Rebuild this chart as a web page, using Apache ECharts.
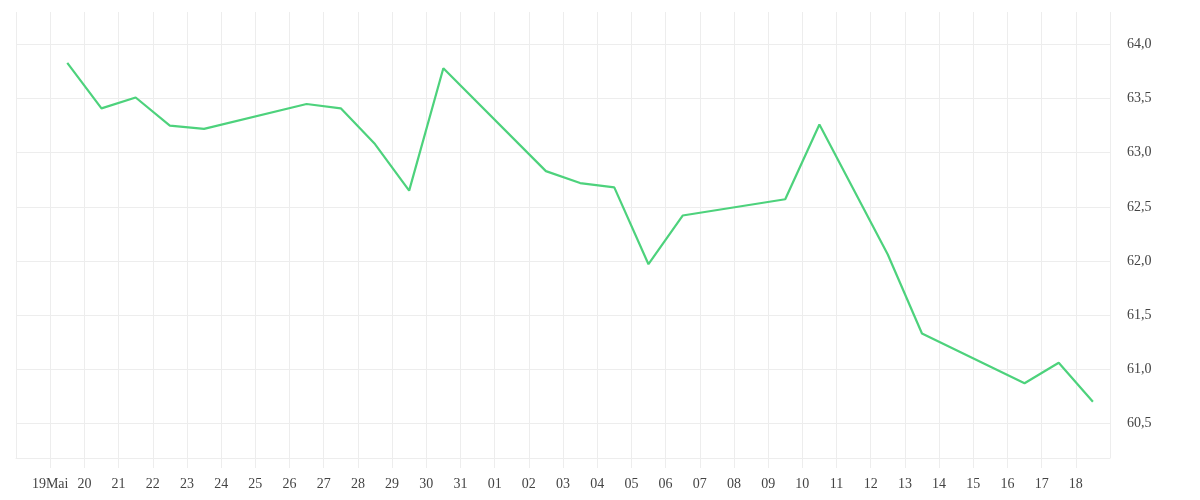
<!DOCTYPE html>
<html>
<head>
<meta charset="utf-8">
<style>html,body{margin:0;padding:0;background:#fff;}#c{width:1200px;height:500px;}</style>
<script src="https://cdn.jsdelivr.net/npm/echarts@6/dist/echarts.min.js"></script>
</head>
<body>
<div id="c"></div>
<script>
// data (dates as trading days)
const dates = ["2025-05-19","2025-05-20","2025-05-21","2025-05-22","2025-05-23",
  "2025-05-26","2025-05-27","2025-05-28","2025-05-29","2025-05-30",
  "2025-06-02","2025-06-03","2025-06-04","2025-06-05","2025-06-06",
  "2025-06-09","2025-06-10","2025-06-12","2025-06-13",
  "2025-06-16","2025-06-17","2025-06-18"];
const values = [63.83,63.41,63.51,63.25,63.22,
  63.45,63.41,63.08,62.65,63.78,
  62.83,62.72,62.68,61.97,62.42,
  62.57,63.26,62.06,61.33,
  60.87,61.06,60.70];
const tickLabels = ["19Mai","20","21","22","23","24","25","26","27","28","29","30","31",
  "01","02","03","04","05","06","07","08","09","10","11","12","13","14","15","16","17","18"];
const axisStart = "2025-05-18";
const axisEnd = "2025-06-19";
const yMin = 60.18, yMax = 64.3;

const DAY = 86400000;
const t0 = Date.parse(axisStart + "T00:00:00Z");
const t1 = Date.parse(axisEnd + "T00:00:00Z");
const seriesData = dates.map((d, i) => [Date.parse(d + "T12:00:00Z"), values[i]]);

const grid = '#ededed';
const FONT = '"Liberation Serif", "Times New Roman", serif';
const chart = echarts.init(document.getElementById('c'), null, {renderer: 'canvas'});
chart.setOption({
  animation: false,
  backgroundColor: '#fff',
  grid: {left: 16, right: 90, top: 12, bottom: 42, containLabel: false},
  xAxis: {
    type: 'value',
    min: t0, max: t1, interval: DAY,
    axisLine: {show: true, lineStyle: {color: grid, width: 1}},
    axisTick: {show: true, length: 10, lineStyle: {color: grid}},
    splitLine: {show: true, lineStyle: {color: grid, width: 1}},
    axisLabel: {
      showMinLabel: false, showMaxLabel: false,
      margin: 19,
      color: '#444',
      fontFamily: FONT,
      fontSize: 14,
      formatter: function (v) {
        const idx = Math.round((v - t0) / DAY) - 1;
        return (idx >= 0 && idx < tickLabels.length) ? tickLabels[idx] : '';
      }
    }
  },
  yAxis: {
    type: 'value',
    position: 'right',
    min: yMin, max: yMax,
    splitNumber: 8, minInterval: 0.5, maxInterval: 0.5,
    axisLine: {show: false},
    axisTick: {show: false},
    splitLine: {show: true, showMinLine: false, showMaxLine: false, lineStyle: {color: grid, width: 1}},
    axisLabel: {
      showMinLabel: false, showMaxLabel: false,
      margin: 17,
      color: '#444',
      fontFamily: FONT,
      fontSize: 14,
      formatter: function (v) { return v.toFixed(1).replace('.', ','); }
    }
  },
  series: [{
    type: 'line',
    data: seriesData,
    showSymbol: false,
    symbol: 'none',
    smooth: false,
    lineStyle: {color: '#4dd27c', width: 2.2},
    itemStyle: {color: '#4dd27c'}
  }]
});
</script>
</body>
</html>
